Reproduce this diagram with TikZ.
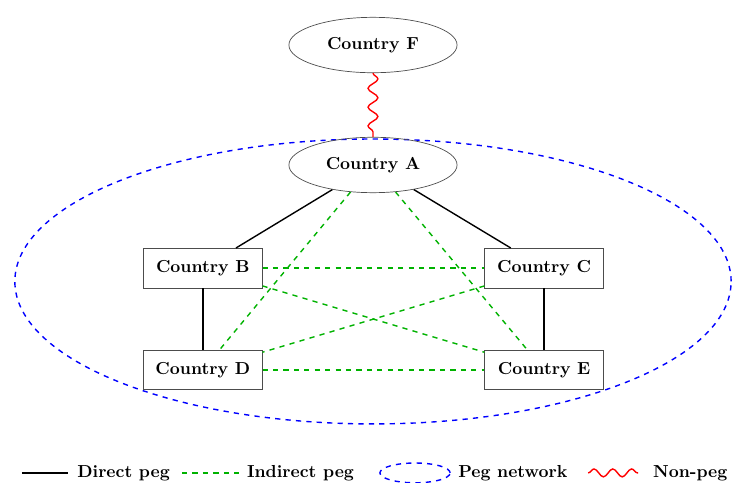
\documentclass[tikz,border=0pt]{standalone}
\usetikzlibrary{shapes.geometric,decorations.pathmorphing}
\begin{document}
\begin{tikzpicture}[
  every node/.style={font=\bfseries},
  country/.style={ellipse, draw=black!70, minimum width=3.4cm, minimum height=1.12cm},
  cbox/.style={rectangle, draw=black!70, minimum width=2.4cm, minimum height=0.8cm},
  direct/.style={thick, black},
  indirect/.style={thick, dashed, green!70!black},
  network/.style={thick, dashed, blue},
  nonpeg/.style={thick, red, decorate, decoration={snake, amplitude=0.1cm, segment length=0.38cm}},
  legtext/.style={anchor=west}
]
\useasboundingbox (0,0) rectangle (15,-9.763);

% peg network
\draw[network] (7.54,-5.69) ellipse (7.24 and 2.88);

\node[country] (F) at (7.54,-0.91) {Country F};
\node[country] (A) at (7.54,-3.335) {Country A};

\node[cbox] (B) at (4.10,-5.42) {Country B};
\node[cbox] (C) at (11.0,-5.42) {Country C};
\node[cbox] (D) at (4.10,-7.48) {Country D};
\node[cbox] (E) at (11.0,-7.48) {Country E};

% direct pegs
\draw[direct] (A) -- (B);
\draw[direct] (A) -- (C);
\draw[direct] (B) -- (D);
\draw[direct] (C) -- (E);

% indirect pegs
\draw[indirect] (A) -- (D);
\draw[indirect] (A) -- (E);
\draw[indirect] (B) -- (C);
\draw[indirect] (D) -- (E);
\draw[indirect] (B) -- (E);
\draw[indirect] (C) -- (D);

% non-peg
\draw[nonpeg] (F.south) -- (A.north);

% legend
\draw[direct] (0.44,-9.56) -- (1.37,-9.56);
\node[legtext] (l1) at (1.44,-9.56) {Direct peg};
\draw[indirect] (3.68,-9.56) -- (4.85,-9.56);
\node[legtext] (l2) at (4.87,-9.56) {Indirect peg};
\draw[network] (8.39,-9.56) ellipse (0.71 and 0.2);
\node[legtext] (l3) at (9.14,-9.56) {Peg network};
\draw[thick, red, decorate, decoration={snake, amplitude=0.08cm, segment length=0.38cm}] (11.89,-9.56) -- (12.9,-9.56);
\node[legtext] (l4) at (13.08,-9.56) {Non-peg};
\end{tikzpicture}
\end{document}
